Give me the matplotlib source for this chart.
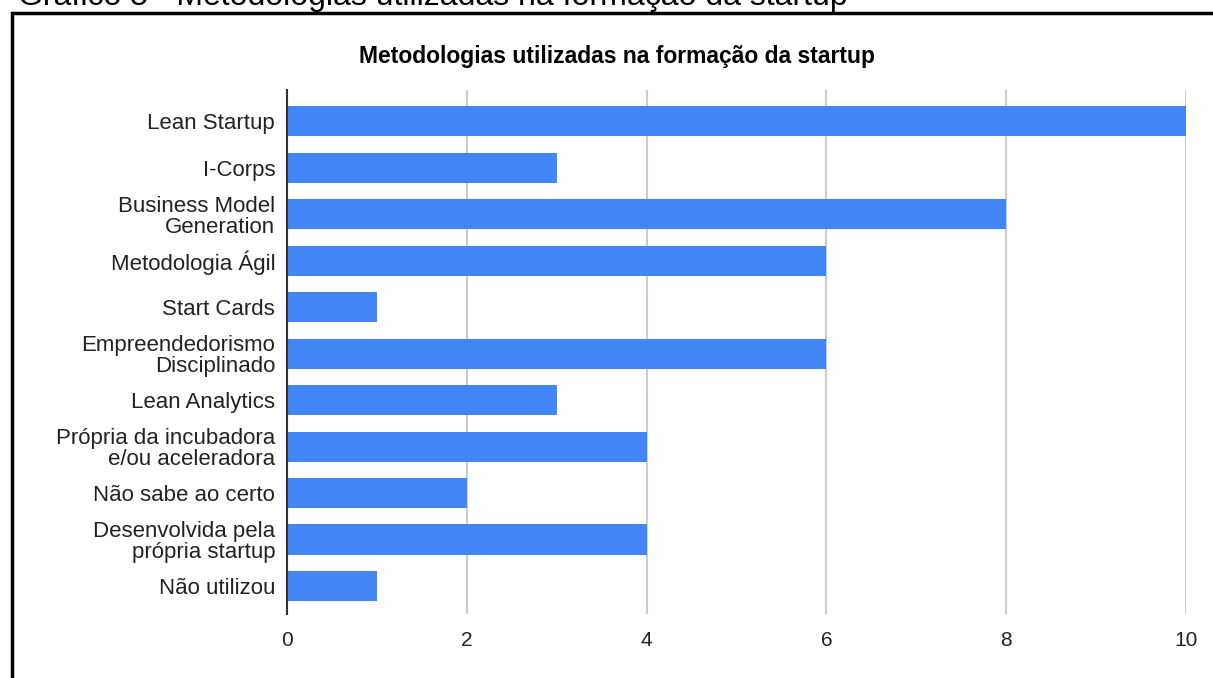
import matplotlib
matplotlib.use('Agg')
import matplotlib.pyplot as plt
from matplotlib.patches import Rectangle

plt.rcParams['font.family'] = ['Liberation Sans', 'DejaVu Sans']

# Metodologias e número de startups que as utilizaram
metodologias = ['Lean Startup', 'I-Corps', 'Business Model\nGeneration',
                'Metodologia Ágil', 'Start Cards',
                'Empreendedorismo\nDisciplinado', 'Lean Analytics',
                'Própria da incubadora\ne/ou aceleradora',
                'Não sabe ao certo', 'Desenvolvida pela\nprópria startup',
                'Não utilizou']
respostas = [10, 3, 8, 6, 1, 6, 3, 4, 2, 4, 1]
ticks_x = [0, 2, 4, 6, 8, 10]

W, H = 1213, 678
fig = plt.figure(figsize=(W / 100, H / 100), dpi=100)

# legenda do gráfico (cortada no topo) e moldura
fig.text(18 / W, 1 - 5 / H,
         'Gráfico 5 - Metodologias utilizadas na formação da startup',
         fontsize=23, va='baseline', ha='left', color='black')
fig.patches.append(Rectangle((11.5 / W, -0.05), 1.2, 1 - 12.5 / H + 0.05,
                             transform=fig.transFigure, fill=False,
                             edgecolor='black', linewidth=2.5))

ax = fig.add_axes([287 / W, 1 - 614 / H, 899 / W, 524 / H])
pos = list(range(len(metodologias)))
ax.barh(pos, respostas, height=0.65, color='#4285f4', zorder=3)
ax.set_ylim(len(metodologias) - 0.4, -0.67)
ax.set_xlim(0, 10)
ax.set_yticks(pos)
ax.set_yticklabels(metodologias, fontsize=16, color='#222222',
                   linespacing=1.0)
ax.set_xticks(ticks_x)
ax.set_xticklabels([str(t) for t in ticks_x], fontsize=15, color='#222222')
ax.tick_params(axis='both', length=0)
ax.tick_params(axis='y', pad=8.5)
ax.tick_params(axis='x', pad=12)
ax.grid(axis='x', color='#cccccc', linewidth=1.5, zorder=0)
for s in ['top', 'right', 'bottom']:
    ax.spines[s].set_visible(False)
ax.spines['left'].set_color('#333333')
ax.spines['left'].set_linewidth(1.5)
ax.spines['left'].set_zorder(4)

fig.text(617 / W, 1 - 56 / H,
         'Metodologias utilizadas na formação da startup',
         fontsize=16.5, fontweight='bold', ha='center', va='center',
         color='black')

fig.savefig('out.png', dpi=100)
